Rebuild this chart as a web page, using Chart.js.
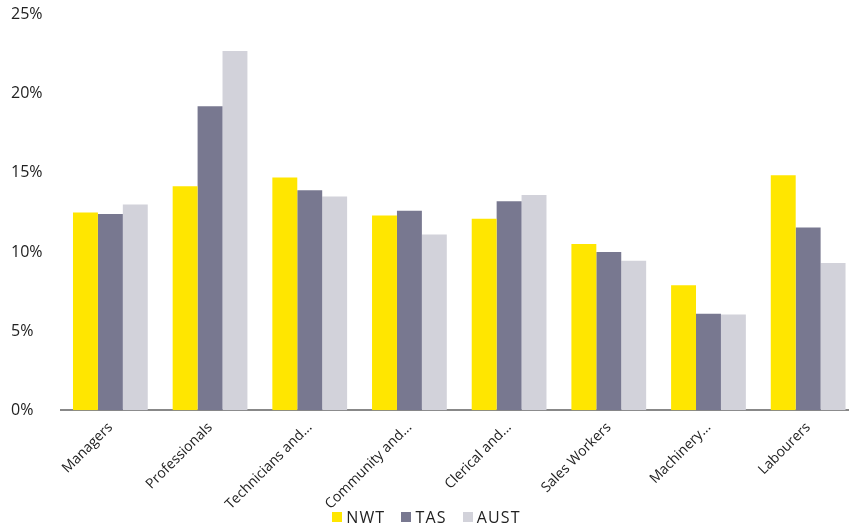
<!DOCTYPE html>
<html>
<head>
<meta charset="utf-8">
<script src="https://cdn.jsdelivr.net/npm/chart.js@4"></script>
<style>
  html, body { margin: 0; padding: 0; background: #fff; overflow: hidden; }
  #wrap { width: 858px; height: 525px; position: relative; }
  #area { width: 858px; height: 514px; position: relative; }
  #legenda {
    position: absolute; left: 0; top: 508px; width: 853px;
    display: flex; justify-content: center; align-items: center;
    font-family: 'Open Sans', sans-serif; font-size: 16px; letter-spacing: 1.2px;
    color: #222; line-height: 18px;
  }
  #legenda .item { display: flex; align-items: center; margin-right: 16px; }
  #legenda .item:last-child { margin-right: 0; }
  #legenda .cor { width: 10px; height: 10px; margin-right: 4px; }
</style>
</head>
<body>
<div id="wrap">
  <div id="area"><canvas id="grafico"></canvas></div>
  <div id="legenda"></div>
</div>
<script>
// Dados por ocupação (% do emprego)
const categorias = ['Managers', 'Professionals', 'Technicians and...', 'Community and...', 'Clerical and...', 'Sales Workers', 'Machinery...', 'Labourers'];
const nwt  = [12.5, 14.15, 14.7, 12.3, 12.1, 10.5, 7.9, 14.85];
const tas  = [12.4, 19.2, 13.9, 12.6, 13.2, 10.0, 6.1, 11.55];
const aust = [13.0, 22.7, 13.5, 11.1, 13.6, 9.45, 6.05, 9.3];

const fonte = 'Open Sans';

const series = [
    { label: 'NWT', data: nwt, backgroundColor: '#ffe600' },
    { label: 'TAS', data: tas, backgroundColor: '#787890' },
    { label: 'AUST', data: aust, backgroundColor: '#d2d2da' }
];

const grafico = new Chart(document.getElementById('grafico'), {
    type: 'bar',
    data: { labels: categorias, datasets: series },
    options: {
        responsive: true,
        maintainAspectRatio: false,
        animation: false,
        datasets: { bar: { categoryPercentage: 0.75, barPercentage: 1.0 } },
        layout: { padding: { left: 11, top: 13, right: 0, bottom: 0 } },
        plugins: {
            tooltip: { enabled: false },
            legend: { display: false }
        },
        scales: {
            x: {
                grid: { display: false },
                border: { display: true, color: '#888', width: 2 },
                ticks: {
                    font: { family: fonte, size: 14, lineHeight: 1.0 },
                    color: '#222',
                    padding: 2,
                    minRotation: 45, maxRotation: 45,
                    autoSkip: false
                }
            },
            y: {
                min: 0, max: 25,
                grid: { display: false },
                border: { display: false },
                ticks: {
                    stepSize: 5,
                    padding: 5,
                    font: { family: fonte, size: 16 },
                    color: '#222',
                    crossAlign: 'far',
                    callback: v => v + '%'
                }
            }
        }
    }
});

// Legenda em HTML, montada a partir das séries
document.getElementById('legenda').innerHTML = grafico.data.datasets.map(ds => `
    <div class="item"><span class="cor" style="background:${ds.backgroundColor}"></span>${ds.label}</div>
`).join('');
</script>
</body>
</html>
